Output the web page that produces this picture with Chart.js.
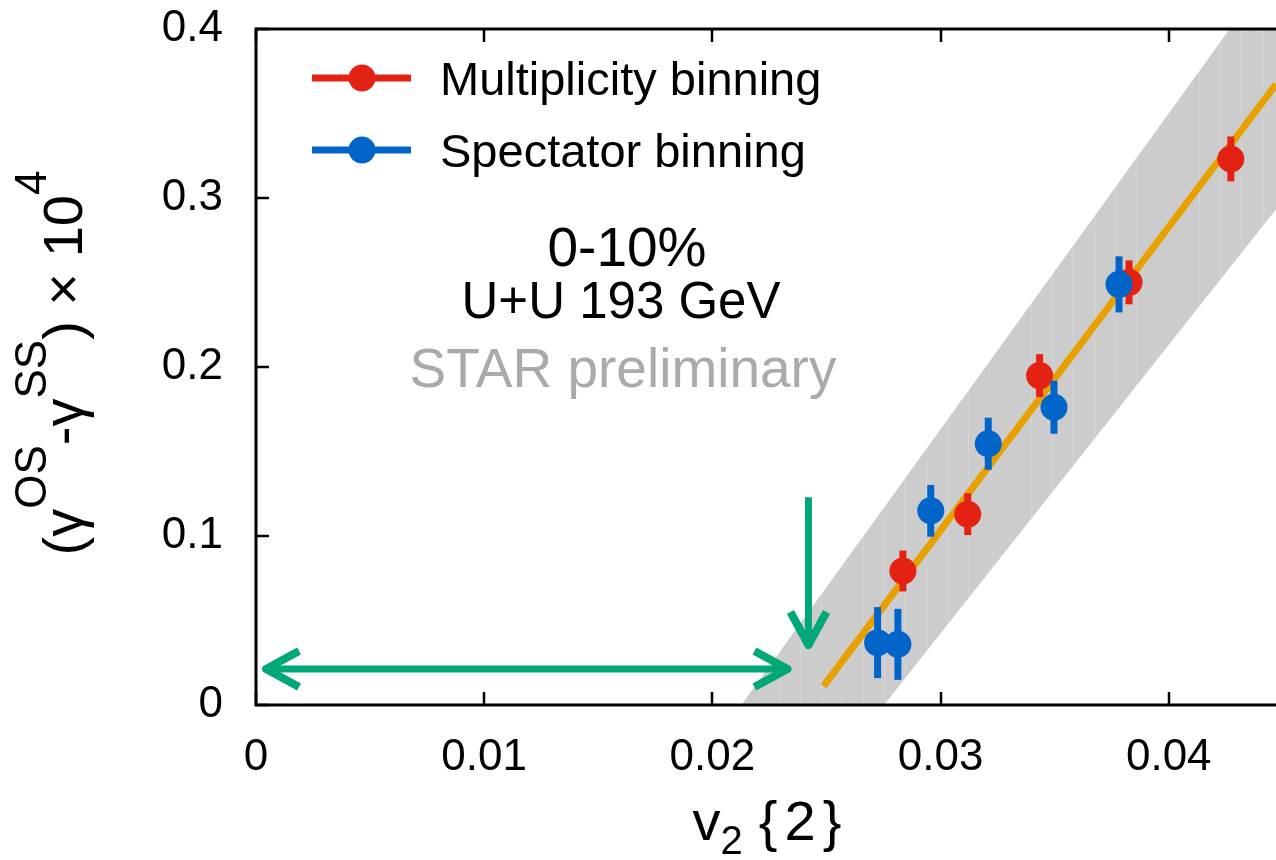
<!DOCTYPE html>
<html>
<head>
<meta charset="utf-8">
<script src="https://cdn.jsdelivr.net/npm/chart.js@4.4.1/dist/chart.umd.min.js"></script>
<style>
  html, body { margin: 0; padding: 0; background: #fff; }
  #plot { display: block; }
</style>
</head>
<body>
<canvas id="plot" width="1276" height="860"></canvas>
<script>
"use strict";

// axis ticks
const xTickValues = [0, 0.01, 0.02, 0.03, 0.04];
const xTickLabels = ["0", "0.01", "0.02", "0.03", "0.04"];
const yTickValues = [0, 0.1, 0.2, 0.3, 0.4];
const yTickLabels = ["0", "0.1", "0.2", "0.3", "0.4"];

// multiplicity binning (red)
const multV2 = [0.02835, 0.03119, 0.03434, 0.03826, 0.04272];
const multGamma = [0.0793, 0.1129, 0.1949, 0.2501, 0.3231];
const multErr = [0.0121, 0.0124, 0.0127, 0.013, 0.0133];

// spectator binning (blue)
const specV2 = [0.02724, 0.02813, 0.02957, 0.03209, 0.03497, 0.03782];
const specGamma = [0.0369, 0.0359, 0.1149, 0.1546, 0.1762, 0.2489];
const specErr = [0.021, 0.021, 0.0153, 0.0154, 0.0157, 0.0166];

// linear fit (orange) and its band (grey)
const fitV2 = [0.02487, 0.0447];
const fitGamma = [0.0112, 0.3673];
const bandUpperV2 = [0.02127, 0.04267, 0.0447];
const bandUpperGamma = [0, 0.4, 0.4];
const bandLowerV2 = [0.02127, 0.02752, 0.0447];
const bandLowerGamma = [0, 0, 0.2934];

// green arrows: horizontal double arrow and vertical arrow at the intercept
const hArrowV2 = [0.00044, 0.02329];
const hArrowGamma = 0.0213;
const vArrowV2 = 0.02421;
const vArrowGamma = [0.123, 0.0355];

const legendLabels = ["Multiplicity binning", "Spectator binning"];
const infoLines = ["0-10%", "U+U 193 GeV", "STAR preliminary"];

const RED = "#e42214";
const BLUE = "#0064c8";
const ORANGE = "#e8a000";
const GREEN = "#00a878";
const BAND = "#cccccc";
const FONT = "'Liberation Sans', Arial, Helvetica, sans-serif";

const toPoints = (xs, ys) => xs.map((x, i) => ({ x, y: ys[i] }));

function bandPattern() {
  const c = document.createElement("canvas");
  c.width = 21;
  c.height = 4;
  const g = c.getContext("2d");
  g.fillStyle = BAND;
  g.fillRect(0, 0, 21, 4);
  g.fillStyle = "#d5d5d5";
  g.fillRect(2, 0, 1, 4);
  return g.createPattern(c, "repeat");
}

const errorBars = {
  id: "errorBars",
  beforeDatasetDraw(chart, args) {
    const ds = chart.data.datasets[args.index];
    if (!ds.errors) return;
    const { ctx } = chart;
    const y = chart.scales.y;
    ctx.save();
    ctx.strokeStyle = ds.backgroundColor;
    ctx.lineWidth = 7;
    args.meta.data.forEach((pt, i) => {
      const v = ds.data[i].y;
      const e = ds.errors[i];
      ctx.beginPath();
      ctx.moveTo(pt.x, y.getPixelForValue(v + e));
      ctx.lineTo(pt.x, y.getPixelForValue(v - e));
      ctx.stroke();
    });
    ctx.restore();
  },
};

function drawRich(ctx, parts, x, y, align) {
  let total = 0;
  parts.forEach((p) => {
    ctx.font = p.font;
    p.w = ctx.measureText(p.t).width + (p.gap || 0);
    total += p.w;
  });
  let cx = align === "center" ? x - total / 2 : x;
  ctx.textAlign = "left";
  ctx.textBaseline = "alphabetic";
  parts.forEach((p) => {
    ctx.font = p.font;
    ctx.fillText(p.t, cx, y + (p.dy || 0));
    cx += p.w;
  });
}

const decorations = {
  id: "decorations",
  afterDatasetsDraw(chart) {
    const { ctx, chartArea: a } = chart;
    const xs = chart.scales.x;
    const ys = chart.scales.y;

    // green arrows
    ctx.save();
    ctx.strokeStyle = GREEN;
    ctx.lineWidth = 7;
    ctx.lineJoin = "round";
    const hy = ys.getPixelForValue(hArrowGamma);
    const hx0 = xs.getPixelForValue(hArrowV2[0]);
    const hx1 = xs.getPixelForValue(hArrowV2[1]);
    ctx.beginPath();
    ctx.moveTo(hx0 + 3, hy);
    ctx.lineTo(hx1 - 3, hy);
    ctx.stroke();
    ctx.lineWidth = 8;
    ctx.beginPath();
    ctx.moveTo(hx0 + 33, hy - 18);
    ctx.lineTo(hx0, hy);
    ctx.lineTo(hx0 + 33, hy + 18);
    ctx.moveTo(hx1 - 33, hy - 18);
    ctx.lineTo(hx1, hy);
    ctx.lineTo(hx1 - 33, hy + 18);
    ctx.stroke();
    const vx = xs.getPixelForValue(vArrowV2);
    const vy0 = ys.getPixelForValue(vArrowGamma[0]);
    const vy1 = ys.getPixelForValue(vArrowGamma[1]);
    ctx.lineWidth = 7;
    ctx.beginPath();
    ctx.moveTo(vx, vy0);
    ctx.lineTo(vx, vy1 - 3);
    ctx.stroke();
    ctx.lineWidth = 8;
    ctx.beginPath();
    ctx.moveTo(vx - 18, vy1 - 33);
    ctx.lineTo(vx, vy1);
    ctx.lineTo(vx + 18, vy1 - 33);
    ctx.stroke();
    ctx.restore();

    // frame and inward ticks
    ctx.save();
    ctx.strokeStyle = "#000";
    ctx.lineWidth = 3;
    ctx.beginPath();
    ctx.moveTo(a.right + 2, a.top);
    ctx.lineTo(a.left, a.top);
    ctx.lineTo(a.left, a.bottom);
    ctx.lineTo(a.right + 2, a.bottom);
    ctx.stroke();
    ctx.lineWidth = 2.5;
    ctx.beginPath();
    xTickValues.forEach((v) => {
      const px = Math.round(xs.getPixelForValue(v));
      ctx.moveTo(px, a.bottom);
      ctx.lineTo(px, a.bottom - 13);
      ctx.moveTo(px, a.top);
      ctx.lineTo(px, a.top + 13);
    });
    yTickValues.forEach((v) => {
      const py = Math.round(ys.getPixelForValue(v));
      ctx.moveTo(a.left, py);
      ctx.lineTo(a.left + 13, py);
    });
    ctx.stroke();
    ctx.restore();

    // legend
    ctx.save();
    [[RED, 78], [BLUE, 150]].forEach(([col, ly], i) => {
      ctx.strokeStyle = col;
      ctx.fillStyle = col;
      ctx.lineWidth = 7;
      ctx.beginPath();
      ctx.moveTo(312, ly);
      ctx.lineTo(411, ly);
      ctx.stroke();
      ctx.beginPath();
      ctx.arc(362, ly, 13.5, 0, Math.PI * 2);
      ctx.fill();
      ctx.fillStyle = "#000";
      ctx.font = `47px ${FONT}`;
      ctx.textAlign = "left";
      ctx.textBaseline = "alphabetic";
      ctx.fillText(legendLabels[i], 440, ly + 17);
    });

    // info text
    ctx.textAlign = "center";
    ctx.fillStyle = "#000";
    ctx.font = `55px ${FONT}`;
    ctx.fillText(infoLines[0], 627, 266);
    ctx.font = `51px ${FONT}`;
    ctx.fillText(infoLines[1], 621, 318);
    ctx.fillStyle = "#aaaaaa";
    ctx.font = `55px ${FONT}`;
    ctx.fillText(infoLines[2], 623, 387);

    // x axis title: v2 {2}
    ctx.fillStyle = "#000";
    const big = `56px ${FONT}`;
    const small = `40px ${FONT}`;
    drawRich(ctx, [
      { t: "v", font: big },
      { t: "2", font: small, dy: 14, gap: 16 },
      { t: "{", font: big, gap: 7 },
      { t: "2", font: big, gap: 7 },
      { t: "}", font: big },
    ], (a.left + a.right) / 2 + 1, 840, "center");

    // y axis title, rotated
    ctx.translate(82, (a.top + a.bottom) / 2 - 4);
    ctx.rotate(-Math.PI / 2);
    const yb = `56px ${FONT}`;
    const ys2 = `44px ${FONT}`;
    drawRich(ctx, [
      { t: "(", font: yb },
      { t: "\u03b3", font: yb },
      { t: "OS", font: ys2, dy: -36 },
      { t: "-", font: yb },
      { t: "\u03b3", font: yb },
      { t: "SS", font: ys2, dy: -36 },
      { t: ")", font: yb },
      { t: " \u00d7 10", font: yb },
      { t: "4", font: ys2, dy: -36 },
    ], 0, 0, "center");
    ctx.restore();
  },
};

const ctx = document.getElementById("plot").getContext("2d");

new Chart(ctx, {
  type: "scatter",
  data: {
    datasets: [
      {
        label: legendLabels[1],
        data: toPoints(specV2, specGamma),
        errors: specErr,
        backgroundColor: BLUE,
        pointRadius: 13.5,
        pointBorderWidth: 0,
        showLine: false,
      },
      {
        label: legendLabels[0],
        data: toPoints(multV2, multGamma),
        errors: multErr,
        backgroundColor: RED,
        pointRadius: 13.5,
        pointBorderWidth: 0,
        showLine: false,
      },
      {
        label: "fit",
        data: toPoints(fitV2, fitGamma),
        showLine: true,
        borderColor: ORANGE,
        borderWidth: 7,
        pointRadius: 0,
        fill: false,
      },
      {
        label: "band upper",
        data: toPoints(bandUpperV2, bandUpperGamma),
        showLine: true,
        borderColor: "transparent",
        borderWidth: 1,
        pointRadius: 0,
        backgroundColor: bandPattern(),
        fill: "+1",
      },
      {
        label: "band lower",
        data: toPoints(bandLowerV2, bandLowerGamma),
        showLine: true,
        borderColor: "transparent",
        borderWidth: 1,
        pointRadius: 0,
        fill: false,
      },
    ],
  },
  options: {
    responsive: false,
    animation: false,
    layout: { autoPadding: false, padding: { top: 29, left: 0, right: 0, bottom: 0 } },
    plugins: {
      legend: { display: false },
      tooltip: { enabled: false },
    },
    scales: {
      x: {
        type: "linear",
        min: 0,
        max: 0.0447,
        grid: { display: false, drawTicks: false, tickLength: 0 },
        border: { display: false },
        afterBuildTicks: (s) => { s.ticks = xTickValues.map((v) => ({ value: v })); },
        afterFit: (s) => {
          s.height = 155;
          s.paddingLeft = 0;
          s.paddingRight = 0;
        },
        ticks: {
          autoSkip: false,
          maxRotation: 0,
          padding: 26,
          color: "#000",
          font: { family: FONT, size: 44 },
          callback: (v) => xTickLabels[xTickValues.indexOf(v)] ?? "",
        },
      },
      y: {
        type: "linear",
        min: 0,
        max: 0.4,
        grid: { display: false, drawTicks: false, tickLength: 0 },
        border: { display: false },
        afterBuildTicks: (s) => { s.ticks = yTickValues.map((v) => ({ value: v })); },
        afterFit: (s) => {
          s.width = 256;
          s.paddingTop = 0;
          s.paddingBottom = 0;
        },
        ticks: {
          autoSkip: false,
          padding: 33,
          color: "#000",
          font: { family: FONT, size: 44 },
          callback: (v) => yTickLabels[yTickValues.indexOf(v)] ?? "",
        },
      },
    },
  },
  plugins: [errorBars, decorations],
});
</script>
</body>
</html>
